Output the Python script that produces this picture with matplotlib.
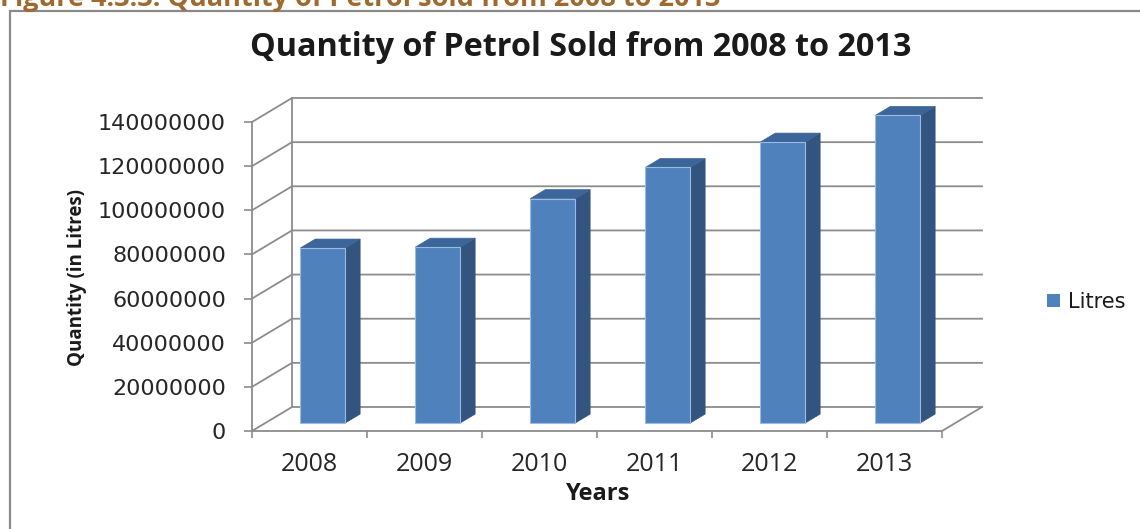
import matplotlib
matplotlib.use('Agg')
import matplotlib.pyplot as plt
from matplotlib.patches import Polygon, Rectangle, Patch

years = ['2008', '2009', '2010', '2011', '2012', '2013']
litres = [79300000, 79700000, 101700000, 115800000, 127300000, 139400000]
yticks = [0, 20000000, 40000000, 60000000, 80000000, 100000000, 120000000, 140000000]

W, H = 1140, 529
fig = plt.figure(figsize=(W / 100, H / 100), dpi=100)
fig.patch.set_facecolor('white')

# front plane of the 3d box, in pixels: x 252..942, y 122..431
ax = fig.add_axes([252 / W, 1 - 431 / H, 690 / W, 309 / H])
ymax = yticks[-1]
n = len(years)
ax.set_xlim(0, n)
ax.set_ylim(0, ymax)
ax.set_facecolor('none')
for s in ax.spines.values():
    s.set_visible(False)

# depth of the box (oblique projection) in data units
dx = 40 / 115
dy = 24 / 309 * ymax

grid = '#8c8c8c'
lw = 1.3
for v in yticks:
    ax.plot([0, dx, n + dx], [v, v + dy, v + dy], color=grid, lw=lw, clip_on=False, zorder=1)
ax.plot([dx, dx], [dy, ymax + dy], color=grid, lw=lw, clip_on=False, zorder=1)
ax.plot([0, 0], [0, ymax], color=grid, lw=lw, clip_on=False, zorder=1)
ax.plot([0, n, n + dx], [0, 0, dy], color=grid, lw=lw, clip_on=False, zorder=1)

# 3d columns
front_c = '#4f81bd'
side_c = '#32547f'
top_c = '#3c6699'
w = 0.39      # column width (category units)
d0 = 0.33     # where the column starts in depth
bd = 0.375    # column depth
for i, v in enumerate(litres):
    x0 = i + 0.5 - w / 2 + d0 * dx
    y0 = d0 * dy
    sx, sy = bd * dx, bd * dy
    front = [(x0, y0), (x0 + w, y0), (x0 + w, y0 + v), (x0, y0 + v)]
    side = [(x0 + w, y0), (x0 + w + sx, y0 + sy), (x0 + w + sx, y0 + sy + v), (x0 + w, y0 + v)]
    top = [(x0, y0 + v), (x0 + w, y0 + v), (x0 + w + sx, y0 + v + sy), (x0 + sx, y0 + v + sy)]
    ax.add_patch(Polygon(side, closed=True, facecolor=side_c, edgecolor=side_c, lw=0.5, zorder=3, clip_on=False))
    ax.add_patch(Polygon(top, closed=True, facecolor=top_c, edgecolor=top_c, lw=0.5, zorder=3, clip_on=False))
    ax.add_patch(Polygon(front, closed=True, facecolor=front_c, edgecolor='#9dbbe2', lw=0.8, zorder=4, clip_on=False))

# y axis ticks
ax.set_yticks(yticks)
ax.set_yticklabels([str(t) for t in yticks])
ax.tick_params(axis='y', length=5.8, width=1.2, color=grid, pad=13, labelsize=16, labelcolor='#262626')

# x axis: ticks between categories, year labels in the middle
ax.set_xticks(range(n + 1))
ax.set_xticklabels([])
ax.set_xticks([i + 0.5 for i in range(n)], minor=True)
ax.set_xticklabels(years, minor=True)
ax.tick_params(axis='x', which='major', length=5, width=1.2, color=grid)
ax.tick_params(axis='x', which='minor', length=0, pad=15, labelsize=18, labelcolor='#262626')
for lbl in ax.get_xticklabels(minor=True):
    lbl.set_family('Open Sans')

fig.text(581 / W, 1 - 48 / H, 'Quantity of Petrol Sold from 2008 to 2013', ha='center', va='center',
         fontsize=23.3, fontweight='bold', family='Open Sans', color='#1a1a1a')
fig.text(598 / W, 1 - 494 / H, 'Years', ha='center', va='center',
         fontsize=17, fontweight='bold', family='Open Sans', color='#1a1a1a')
fig.text(77 / W, 1 - 278 / H, 'Quantity (in Litres)', ha='center', va='center', rotation=90,
         fontsize=13.5, fontweight='bold', family='Open Sans', color='#1a1a1a')

fig.legend(handles=[Patch(facecolor=front_c, label='Litres')], loc='center left',
           bbox_to_anchor=(1047 / W, 1 - 302 / H), frameon=False, fontsize=15,
           handlelength=0.6, handleheight=0.6, handletextpad=0.4, borderaxespad=0, borderpad=0,
           labelcolor='#1a1a1a')

# chart border and the document caption above it
fig.patches.append(Rectangle((10 / W, -0.1), 1.2, 1 - 11 / H + 0.1, transform=fig.transFigure,
                             fill=False, edgecolor='#8a8a8a', lw=1.6))
fig.text(0, 1 - 6 / H, 'Figure 4.3.3: Quantity of Petrol sold from 2008 to 2013', ha='left', va='baseline',
         fontsize=19.5, fontweight='bold', family='Open Sans', color='#9e6a2f')

fig.savefig('out.png', dpi=100)
